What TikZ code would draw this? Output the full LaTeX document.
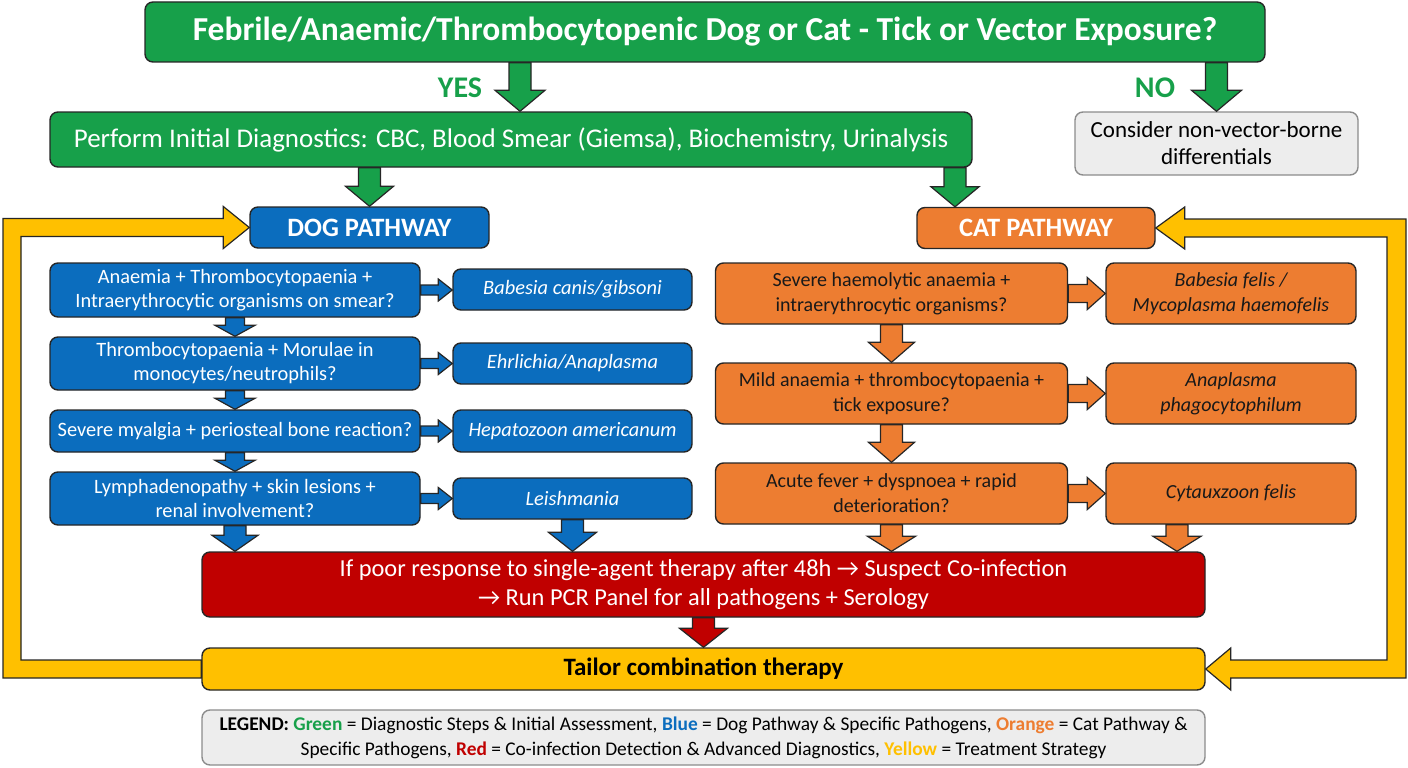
\documentclass[tikz,border=0pt]{standalone}
\usepackage{fontspec}
\setmainfont{Carlito}
\usetikzlibrary{calc}
\definecolor{flowgreen}{HTML}{17A04A}
\definecolor{dogblue}{HTML}{0B6DBE}
\definecolor{catorange}{HTML}{ED7D31}
\definecolor{coinfred}{HTML}{C00000}
\definecolor{treatyellow}{HTML}{FFC000}
\definecolor{legendgrey}{HTML}{F2F2F2}
\tikzset{
  box/.style={draw=black!85, line width=1.4pt, rounded corners=8pt, align=center, inner sep=0pt},
  greenbox/.style={box, fill=flowgreen, text=white},
  dogbox/.style={box, fill=dogblue, text=white, font=\fontsize{20.4}{24}\selectfont},
  catbox/.style={box, fill=catorange, text=black!90, font=\fontsize{20}{25}\selectfont},
  greybox/.style={box, draw=black!45, fill=black!7, text=black},
  answer/.style={text=flowgreen, font=\fontsize{30}{32}\selectfont\bfseries},
  flow/.style={draw=black!85, line width=1.2pt, line join=miter},
}
\newcommand{\vflow}[6]{%
  \draw[flow, fill=#1] let \p1=(#2), \p2=(#3) in
    (\x1-#4,\y1) -- (\x1-#4,\y2+#6) -- (\x1-#5,\y2+#6) -- (\x1,\y2)
    -- (\x1+#5,\y2+#6) -- (\x1+#4,\y2+#6) -- (\x1+#4,\y1) -- cycle;}
\newcommand{\hflow}[6]{%
  \draw[flow, fill=#1] let \p1=(#2), \p2=(#3) in
    (\x1,\y1-#4) -- (\x2-#6,\y1-#4) -- (\x2-#6,\y1-#5) -- (\x2,\y1)
    -- (\x2-#6,\y1+#5) -- (\x2-#6,\y1+#4) -- (\x1,\y1+#4) -- cycle;}

\begin{document}
\begin{tikzpicture}[x=1pt, y=-1pt]
    \useasboundingbox (0,0) rectangle (1408,768);

    \node[greenbox, minimum width=1120pt, minimum height=60pt, font=\fontsize{33.5}{36}\selectfont\bfseries]
        (title) at (705,32) {Febrile/Anaemic/Thrombocytopenic Dog or Cat - Tick or Vector Exposure?};
    \node[greenbox, minimum width=922pt, minimum height=55pt, font=\fontsize{27}{30}\selectfont]
        (init) at (511,139.5) {Perform Initial Diagnostics: CBC, Blood Smear (Giemsa), Biochemistry, Urinalysis};
    \node[greybox, minimum width=283pt, minimum height=63pt, font=\fontsize{23}{27}\selectfont]
        (nonvec) at (1216.5,143.5) {Consider non-vector-borne\\differentials};
    \node[answer] (yes) at (460,88) {YES};
    \node[answer] (no) at (1155,88) {NO};
    \coordinate (yesx) at (520,0);
    \coordinate (catx) at (955,0);
    \coordinate (cytx) at (1177,0);

    \node[box, fill=dogblue, text=white, minimum width=239pt, minimum height=41pt, font=\fontsize{26.5}{28}\selectfont\bfseries]
        (dog) at (369.5,227.5) {DOG PATHWAY};
    \node[box, fill=catorange, text=white, minimum width=238pt, minimum height=41pt, font=\fontsize{26.5}{28}\selectfont\bfseries]
        (cat) at (1036,228) {CAT PATHWAY};

    \node[dogbox, minimum width=370pt, minimum height=54pt] (dq1) at (235,290) {Anaemia + Thrombocytopaenia +\\Intraerythrocytic organisms on smear?};
    \node[dogbox, minimum width=370pt, minimum height=53pt] (dq2) at (235,363.5) {Thrombocytopaenia + Morulae in\\monocytes/neutrophils?};
    \node[dogbox, minimum width=370pt, minimum height=42pt] (dq3) at (235,431) {Severe myalgia + periosteal bone reaction?};
    \node[dogbox, minimum width=370pt, minimum height=53pt] (dq4) at (235,498.5) {Lymphadenopathy + skin lesions +\\renal involvement?};
    \node[dogbox, minimum width=239pt, minimum height=41pt, font=\fontsize{20.4}{24}\selectfont\itshape] (dr1) at (572.5,289.5) {Babesia canis/gibsoni};
    \node[dogbox, minimum width=239pt, minimum height=41pt, font=\fontsize{20.4}{24}\selectfont\itshape] (dr2) at (572.5,363.5) {Ehrlichia/Anaplasma};
    \node[dogbox, minimum width=239pt, minimum height=42pt, font=\fontsize{20.4}{24}\selectfont\itshape] (dr3) at (572.5,431) {Hepatozoon americanum};
    \node[dogbox, minimum width=239pt, minimum height=41pt, font=\fontsize{20.4}{24}\selectfont\itshape] (dr4) at (572.5,498.5) {Leishmania};

    \node[catbox, minimum width=352pt, minimum height=61pt] (cq1) at (891.5,293.5) {Severe haemolytic anaemia +\\intraerythrocytic organisms?};
    \node[catbox, minimum width=352pt, minimum height=61pt] (cq2) at (891.5,393.5) {Mild anaemia + thrombocytopaenia +\\tick exposure?};
    \node[catbox, minimum width=352pt, minimum height=61pt] (cq3) at (891.5,493.5) {Acute fever + dyspnoea + rapid\\deterioration?};
    \node[catbox, minimum width=250pt, minimum height=61pt, font=\fontsize{20}{25}\selectfont\itshape] (cr1) at (1231,293.5) {Babesia felis /\\Mycoplasma haemofelis};
    \node[catbox, minimum width=250pt, minimum height=61pt, font=\fontsize{20}{25}\selectfont\itshape] (cr2) at (1231,393.5) {Anaplasma\\phagocytophilum};
    \node[catbox, minimum width=250pt, minimum height=61pt, font=\fontsize{20}{25}\selectfont\itshape] (cr3) at (1231,493.5) {Cytauxzoon felis};

    \node[box, fill=coinfred, text=white, minimum width=1003pt, minimum height=65pt, font=\fontsize{24.4}{29}\selectfont]
        (coinf) at (703.5,584.5) {If poor response to single-agent therapy after 48h → Suspect Co-infection\\→ Run PCR Panel for all pathogens + Serology};
    \node[box, fill=treatyellow, text=black, minimum width=1003pt, minimum height=42pt, font=\fontsize{25}{28}\selectfont\bfseries]
        (treat) at (703.5,669) {Tailor combination therapy};
    \node[greybox, minimum width=1003pt, minimum height=55pt, font=\fontsize{19.4}{25}\selectfont]
        (legend) at (703.5,737.5) {\textbf{LEGEND:} \textbf{\textcolor{flowgreen}{Green}} = Diagnostic Steps \& Initial Assessment, \textbf{\textcolor{dogblue}{Blue}} = Dog Pathway \& Specific Pathogens, \textbf{\textcolor{catorange}{Orange}} = Cat Pathway \&\\Specific Pathogens, \textbf{\textcolor{coinfred}{Red}} = Co-infection Detection \& Advanced Diagnostics, \textbf{\textcolor{treatyellow}{Yellow}} = Treatment Strategy};

    \vflow{flowgreen}{title.south -| yesx}{init.north -| yesx}{11pt}{25pt}{21pt}
    \vflow{flowgreen}{title.south -| nonvec.north}{nonvec.north}{11pt}{25pt}{21pt}
    \vflow{flowgreen}{init.south -| dog.north}{dog.north}{11pt}{24pt}{20pt}
    \vflow{flowgreen}{init.south -| catx}{cat.north -| catx}{11pt}{24pt}{20pt}

    \vflow{dogblue}{dq1.south}{dq2.north}{9.5pt}{20pt}{11pt}
    \vflow{dogblue}{dq2.south}{dq3.north}{9.5pt}{20pt}{11pt}
    \vflow{dogblue}{dq3.south}{dq4.north}{9.5pt}{20pt}{11pt}
    \hflow{dogblue}{dq1.east}{dr1.west}{5pt}{11pt}{14pt}
    \hflow{dogblue}{dq2.east}{dr2.west}{5pt}{11pt}{14pt}
    \hflow{dogblue}{dq3.east}{dr3.west}{5pt}{11pt}{14pt}
    \hflow{dogblue}{dq4.east}{dr4.west}{5pt}{11pt}{14pt}
    \vflow{dogblue}{dq4.south}{coinf.north -| dq4.south}{11pt}{23pt}{16pt}
    \vflow{dogblue}{dr4.south}{coinf.north -| dr4.south}{11pt}{24pt}{19pt}

    \vflow{catorange}{cq1.south}{cq2.north}{11pt}{23pt}{20pt}
    \vflow{catorange}{cq2.south}{cq3.north}{11pt}{23pt}{20pt}
    \hflow{catorange}{cq1.east}{cr1.west}{9pt}{16pt}{18pt}
    \hflow{catorange}{cq2.east}{cr2.west}{9pt}{16pt}{18pt}
    \hflow{catorange}{cq3.east}{cr3.west}{9pt}{16pt}{18pt}
    \vflow{catorange}{cq3.south}{coinf.north -| cq3.south}{11pt}{24pt}{15pt}
    \vflow{catorange}{cr3.south -| cytx}{coinf.north -| cytx}{11pt}{24pt}{15pt}

    \vflow{coinfred}{coinf.south}{treat.north}{11pt}{24pt}{19pt}

    \draw[flow, fill=treatyellow] let \p1=(dog.west), \p2=(treat.west) in
        (\x2,\y2+9pt) -- (21pt,\y2+9pt) -- (21pt,\y1-9pt) -- (\x1-26pt,\y1-9pt) -- (\x1-26pt,\y1-21pt)
        -- (\x1,\y1) -- (\x1-26pt,\y1+21pt) -- (\x1-26pt,\y1+9pt) -- (3pt,\y1+9pt) -- (3pt,\y2-9pt)
        -- (\x2,\y2-9pt) -- cycle;
    \draw[flow, fill=treatyellow] let \p1=(cat.east), \p2=(treat.east) in
        (\x1,\y1) -- (\x1+29pt,\y1+21pt) -- (\x1+29pt,\y1+9pt) -- (1406pt,\y1+9pt) -- (1406pt,\y2-9pt)
        -- (\x2+25pt,\y2-9pt) -- (\x2+25pt,\y2-21pt) -- (\x2,\y2) -- (\x2+25pt,\y2+21pt) -- (\x2+25pt,\y2+9pt)
        -- (1387pt,\y2+9pt) -- (1387pt,\y1-9pt) -- (\x1+29pt,\y1-9pt) -- (\x1+29pt,\y1-21pt) -- cycle;
\end{tikzpicture}
\end{document}
